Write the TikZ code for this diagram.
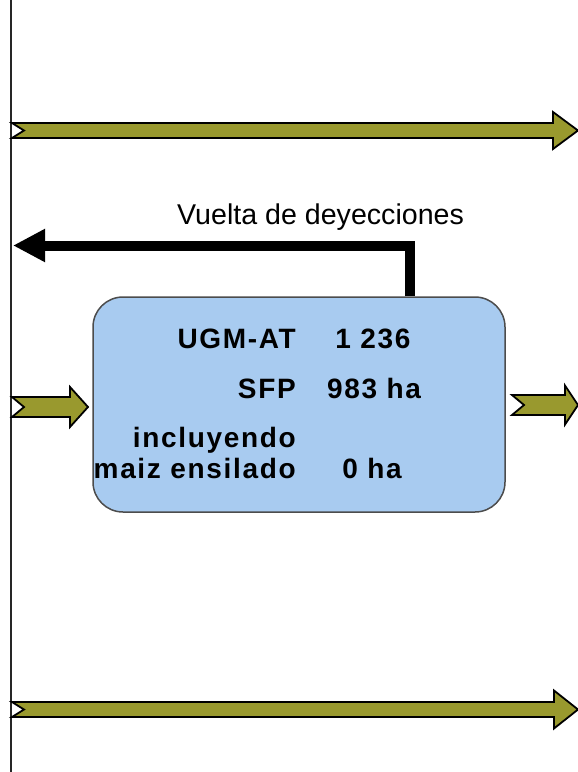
\documentclass[tikz,border=0pt]{standalone}
\usepackage{fontspec}
\setmainfont{Liberation Sans}
\newfontfamily\negrita[LetterSpace=6]{Liberation Sans}
\usetikzlibrary{arrows.meta,positioning}
\definecolor{oliva}{RGB}{153,153,46}
\definecolor{azulcaja}{RGB}{168,203,240}

% fat flow arrow: x start, x tip, y, shaft half, head half, head length
\newcommand{\flecha}[6]{%
  \filldraw[flujo] (#1,#3-#4) -- (#2-#6,#3-#4) -- (#2-#6,#3-#5) -- (#2,#3)
    -- (#2-#6,#3+#5) -- (#2-#6,#3+#4) -- (#1,#3+#4) -- (#1+12,#3) -- cycle;}

\begin{document}
\begin{tikzpicture}[x=1pt,y=-1pt,
    flujo/.style={fill=oliva,draw=black,line width=1.8pt,line join=miter},
    caja/.style={fill=azulcaja,draw=black!70,line width=1.5pt,rounded corners=30pt,
                 minimum width=412pt,minimum height=215pt},
    vuelta/.style={line width=10pt,line join=miter,-{Triangle[length=32pt,width=31pt]}},
    eje/.style={line width=2pt,black!85},
    etiqueta/.style={font=\negrita\fontsize{28}{30}\selectfont\bfseries,inner sep=0pt,anchor=base east},
    valor/.style={font=\negrita\fontsize{28}{30}\selectfont\bfseries,inner sep=0pt,anchor=base}]
  \useasboundingbox (0,0) rectangle (578,772);

  \draw[eje] (10.5,0) -- (10.5,772);

  \flecha{12}{578}{130.5}{7.5}{18.5}{25}
  \flecha{12}{88}{407}{10}{20}{18}
  \flecha{512}{578}{405}{10}{19.5}{13}
  \flecha{12}{578}{709.5}{7.5}{19}{24}

  \node[caja] (corral) at (299,404.5) {};

  \node[etiqueta] (ugm)   at (296,348) {UGM-AT};
  \node[valor]    (ugmv)  at (373,348) {1 236};
  \node[etiqueta] (sfp)   at (296,398) {SFP};
  \node[valor]    (sfpv)  at (374,398) {983 ha};
  \node[etiqueta] (incl)  at (296,447) {incluyendo};
  \node[etiqueta] (maiz)  at (296,478) {maiz ensilado};
  \node[valor]    (maizv) at (372,478) {0 ha};

  \node[font=\fontsize{28.6}{30}\selectfont,inner sep=0pt,anchor=base west]
       (deyec) at (177,224) {Vuelta de deyecciones};

  \coordinate (salida)  at (410,245.5);
  \coordinate (retorno) at (13,245.5);
  \draw[vuelta] (salida |- corral.north) -- (salida) -- (retorno);
\end{tikzpicture}
\end{document}
